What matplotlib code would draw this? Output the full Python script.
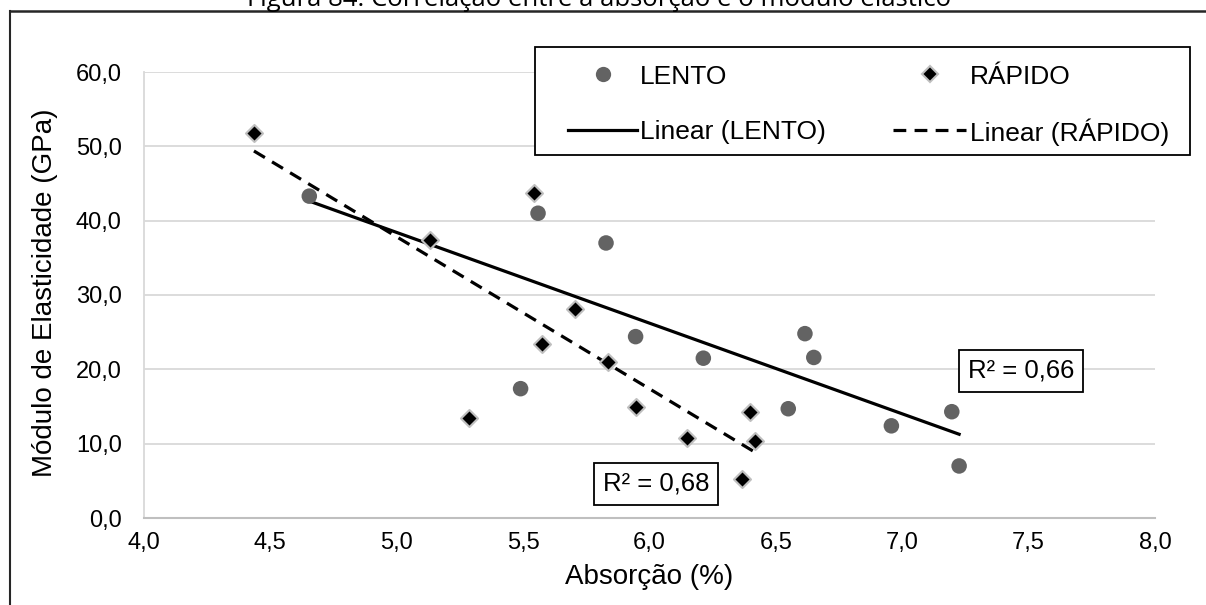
import numpy as np
import matplotlib.pyplot as plt
from matplotlib.lines import Line2D
from matplotlib.patches import Rectangle

# Absorção (%) x Módulo de Elasticidade (GPa)
lento_abs = [4.654, 5.490, 5.559, 5.828, 5.945, 6.213, 6.549, 6.615, 6.650, 6.957, 7.196, 7.225]
lento_mod = [43.3, 17.4, 41.0, 37.0, 24.4, 21.5, 14.7, 24.8, 21.6, 12.4, 14.3, 7.0]

rapido_abs = [4.435, 5.132, 5.286, 5.544, 5.575, 5.704, 5.834, 5.947, 6.147, 6.365, 6.398, 6.418]
rapido_mod = [51.8, 37.4, 13.4, 43.7, 23.4, 28.1, 21.0, 15.0, 10.7, 5.3, 14.2, 10.3]

r2_lento = "R² = 0,66"
r2_rapido = "R² = 0,68"

x_ticks = [4.0, 4.5, 5.0, 5.5, 6.0, 6.5, 7.0, 7.5, 8.0]
y_ticks = [0, 10, 20, 30, 40, 50, 60]

titulo = "Figura 84: Correlação entre a absorção e o módulo elástico"

plt.rcParams["font.family"] = ["Liberation Sans", "DejaVu Sans"]

W, H = 1206, 605
fig = plt.figure(figsize=(W / 100, H / 100), dpi=100)
ax = fig.add_axes([144 / W, 87 / H, 1011 / W, 446 / H])

CINZA = "#636363"
TRACO = (0, (4, 2.6))


def fmt(v):
    return f"{v:.1f}".replace(".", ",")


def fx(px):
    return px / W


def fy(py):
    return 1 - py / H


# linhas de tendência (mínimos quadrados)
for xs, ys, style in [(lento_abs, lento_mod, "-"), (rapido_abs, rapido_mod, TRACO)]:
    a, b = np.polyfit(xs, ys, 1)
    xl = np.array([min(xs), max(xs)])
    ax.plot(xl, a * xl + b, color="black", lw=2.3, linestyle=style, zorder=2)

ax.scatter(lento_abs, lento_mod, s=125, color=CINZA, edgecolors="none", zorder=3)
ax.scatter(rapido_abs, rapido_mod, s=75, marker="D", color="black",
           edgecolors="#bfbfbf", linewidths=1.5, zorder=4)

ax.set_xlim(4, 8)
ax.set_ylim(0, 60)
ax.set_xticks(x_ticks)
ax.set_xticklabels([fmt(v) for v in x_ticks], fontsize=17)
ax.set_yticks(y_ticks)
ax.set_yticklabels([fmt(v) for v in y_ticks], fontsize=17)
ax.tick_params(length=0)
ax.tick_params(axis="y", pad=16)
ax.tick_params(axis="x", pad=10)

ax.yaxis.grid(True, color="#d9d9d9", lw=1.3)
ax.set_axisbelow(True)
for side in ["top", "right"]:
    ax.spines[side].set_visible(False)
ax.spines["left"].set_color("#d9d9d9")
ax.spines["left"].set_linewidth(1.3)
ax.spines["bottom"].set_color("#bfbfbf")
ax.spines["bottom"].set_linewidth(1.5)

ax.set_xlabel("Absorção (%)", fontsize=20)
ax.xaxis.set_label_coords(0.5, -0.103)
ax.set_ylabel("Módulo de Elasticidade (GPa)", fontsize=20)
ax.yaxis.set_label_coords(-0.085, 0.505)

box = dict(boxstyle="square,pad=0.35", fc="white", ec="black", lw=1.3)
ax.text(6.026, 4.63, r2_rapido, ha="center", va="center", fontsize=18.5, bbox=box, zorder=5)
ax.text(7.47, 19.8, r2_lento, ha="center", va="center", fontsize=18.5, bbox=box, zorder=5)

# legenda em duas colunas, montada à mão para alinhar as linhas
fig.add_artist(Rectangle((fx(535), fy(155)), fx(1190) - fx(535), fy(47) - fy(155),
                         transform=fig.transFigure, fc="white", ec="black", lw=1.3))
itens = [
    (603, 74, dict(ls="none", marker="o", ms=11, color=CINZA, mec="none"), 640, "LENTO"),
    (930, 74, dict(ls="none", marker="D", ms=8, color="black", mec="#bfbfbf", mew=1.5), 970, "RÁPIDO"),
    ((568, 637), 130, dict(color="black", lw=2.3), 640, "Linear (LENTO)"),
    ((893, 966), 130, dict(color="black", lw=2.3, linestyle=TRACO), 970, "Linear (RÁPIDO)"),
]
for hx, hy, kw, tx, texto in itens:
    xs = [fx(v) for v in hx] if isinstance(hx, tuple) else [fx(hx)]
    fig.add_artist(Line2D(xs, [fy(hy)] * len(xs), transform=fig.transFigure, **kw))
    fig.text(fx(tx), fy(hy), texto, ha="left", va="center_baseline", fontsize=19)

# título e moldura
fig.text(0.497, fy(6), titulo, ha="center", va="baseline", fontsize=18.5,
         family=["Open Sans", "DejaVu Sans"])
fig.add_artist(Line2D([fx(10), 1], [fy(11)] * 2, transform=fig.transFigure,
                      color="#262626", lw=1.8))
fig.add_artist(Line2D([fx(10)] * 2, [0, fy(11)], transform=fig.transFigure,
                      color="#262626", lw=1.5))

fig.savefig("out.png", dpi=100)
